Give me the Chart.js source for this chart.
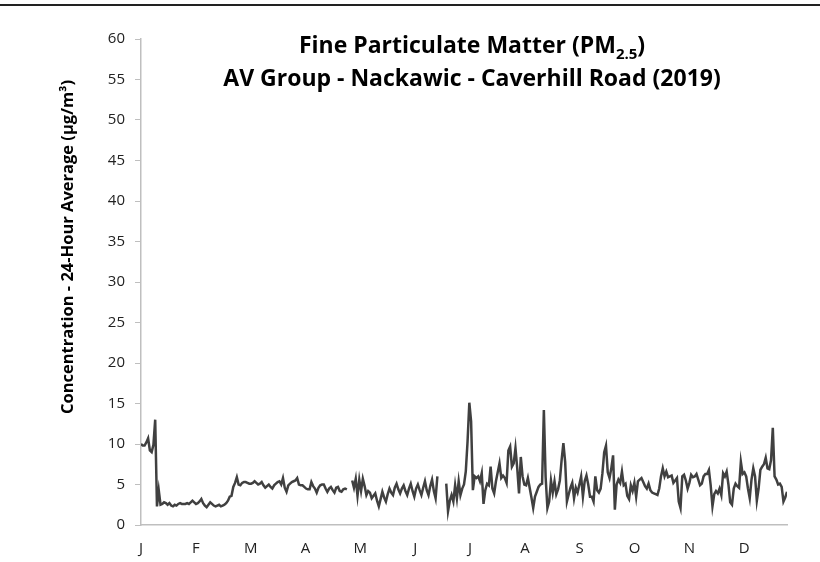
<!DOCTYPE html>
<html>
<head>
<meta charset="utf-8">
<title>Fine Particulate Matter (PM2.5) - Nackawic 2019</title>
<script src="https://cdn.jsdelivr.net/npm/chart.js@4.4.1/dist/chart.umd.min.js"></script>
<style>
  html, body { margin: 0; padding: 0; background: #fff; }
  #pmChart { display: block; }
</style>
</head>
<body>
<canvas id="pmChart" width="820" height="562"></canvas>
<script>
// daily 24-hour averages (ug/m3), one array per month, null = no data
const jan = [10.0, 9.8, 9.8, 10.2, 10.7, 9.2, 9.0, 9.9, 13.0, 2.3, 4.3, 2.5, 2.6, 2.8, 2.7, 2.5, 2.7, 2.4, 2.3, 2.5, 2.4, 2.6, 2.7, 2.6, 2.6, 2.6, 2.7, 2.6, 2.8, 3.0, 2.8];
const feb = [2.6, 2.7, 2.9, 3.2, 2.7, 2.4, 2.2, 2.5, 2.8, 2.6, 2.4, 2.3, 2.4, 2.5, 2.3, 2.4, 2.5, 2.7, 3.0, 3.5, 3.6, 4.7, 5.2, 5.9, 5.0, 4.9, 5.2, 5.3];
const mar = [5.3, 5.2, 5.1, 5.1, 5.2, 5.4, 5.2, 5.0, 5.1, 5.3, 4.9, 4.6, 4.8, 5.0, 4.7, 4.5, 4.9, 5.1, 5.3, 5.4, 5.0, 5.8, 4.6, 4.1, 4.9, 5.1, 5.3, 5.4, 5.5, 5.8, 5.0];
const apr = [4.9, 4.9, 4.7, 4.5, 4.4, 4.4, 5.3, 4.8, 4.5, 4.0, 4.6, 4.9, 5.0, 5.0, 4.5, 4.1, 4.5, 4.7, 4.3, 4.0, 4.6, 4.7, 4.2, 4.1, 4.4, 4.5, 4.4, null, null, 5.5];
const may = [4.6, 5.7, 3.6, 5.6, 4.2, 5.7, 4.8, 3.7, 4.2, 4.0, 3.3, 3.6, 3.9, 3.0, 2.3, 3.2, 4.1, 3.4, 2.9, 3.8, 4.5, 4.0, 3.7, 4.6, 5.1, 4.4, 3.9, 4.5, 4.9, 4.2, 3.7];
const jun = [4.5, 5.1, 4.2, 3.5, 4.5, 5.0, 4.3, 3.7, 4.6, 5.4, 4.3, 3.7, 4.8, 5.6, 4.2, 3.3, 6.0, null, null, null, null, 5.1, 1.7, 3.0, 3.7, 2.9, 4.9, 3.3, 5.4, 3.7];
const jul = [4.5, 5.0, 6.6, 10.3, 15.1, 12.8, 4.3, 6.0, 5.8, 6.0, 5.4, 6.4, 2.6, 4.3, 5.1, 4.9, 7.2, 4.5, 3.9, 5.4, 6.5, 7.6, 5.8, 6.1, 5.8, 5.2, 9.2, 9.7, 7.2, 7.6, 9.5];
const aug = [7.0, 3.9, 8.4, 6.0, 5.0, 4.9, 5.8, 4.6, 3.4, 2.1, 3.5, 4.1, 4.7, 5.0, 5.1, 14.2, 5.9, 2.1, 2.9, 5.5, 4.0, 5.4, 3.8, 4.4, 5.5, 8.0, 10.1, 7.8, 2.9, 3.8, 4.6];
const sep = [5.2, 3.3, 4.6, 4.0, 5.0, 6.0, 3.5, 5.4, 6.1, 5.0, 3.5, 3.5, 2.9, 6.0, 4.3, 4.0, 4.5, 6.4, 9.0, 9.8, 6.5, 5.8, 7.0, 8.6, 1.9, 5.0, 5.6, 5.2, 6.6, 4.9];
const oct = [5.1, 3.6, 3.2, 4.9, 4.2, 5.2, 3.5, 5.4, 5.6, 5.8, 5.3, 4.8, 4.5, 5.1, 4.3, 4.0, 3.9, 3.8, 3.7, 4.5, 6.0, 7.0, 6.0, 6.6, 5.9, 6.0, 6.1, 5.2, 5.5, 5.8, 2.9];
const nov = [2.1, 6.0, 6.2, 5.5, 4.5, 5.2, 6.2, 5.9, 6.0, 6.3, 5.6, 4.9, 5.1, 6.0, 6.3, 6.3, 6.8, 4.9, 2.3, 3.8, 4.2, 3.9, 4.5, 3.7, 6.4, 6.0, 6.6, 5.0, 2.8, 2.5];
const dec = [4.5, 5.1, 4.8, 4.6, 7.8, 6.3, 6.5, 6.0, 4.5, 3.3, 5.6, 7.0, 6.0, 3.0, 4.5, 6.8, 7.2, 7.5, 8.3, 7.0, 6.9, 8.0, 12.0, 6.0, 5.6, 5.0, 5.1, 4.7, 2.9, 3.4, 4.1];

const monthLabels = ['J', 'F', 'M', 'A', 'M', 'J', 'J', 'A', 'S', 'O', 'N', 'D'];
const yMin = 0;
const yMax = 60;
const yStep = 5;

const titleMain = 'Fine Particulate Matter (PM';
const titleSub = '2.5';
const titleLine2 = 'AV Group - Nackawic - Caverhill Road (2019)';
const yAxisTitle = 'Concentration - 24-Hour Average (\u00b5g/m\u00b3)';

const daily = [].concat(jan, feb, mar, apr, may, jun, jul, aug, sep, oct, nov, dec);
const points = daily.map((v, i) => ({ x: i, y: v }));

const FONT = '"Open Sans", Lato, sans-serif';

// title (with subscript) and the rotated y axis title
const headerPlugin = {
    id: 'header',
    afterDraw(chart) {
        const ctx = chart.ctx;
        const cx = 472;
        ctx.save();
        ctx.fillStyle = '#000';
        ctx.textBaseline = 'alphabetic';

        // line 1: PM with 2.5 subscript
        ctx.font = 'bold 23px ' + FONT;
        const wMain = ctx.measureText(titleMain).width;
        const wClose = ctx.measureText(')').width;
        ctx.font = 'bold 15px ' + FONT;
        const wSub = ctx.measureText(titleSub).width;
        let x = cx - (wMain + wSub + wClose) / 2;
        ctx.textAlign = 'left';
        ctx.font = 'bold 23px ' + FONT;
        ctx.fillText(titleMain, x, 53);
        x += wMain;
        ctx.font = 'bold 15px ' + FONT;
        ctx.fillText(titleSub, x, 59);
        x += wSub;
        ctx.font = 'bold 23px ' + FONT;
        ctx.fillText(')', x, 53);

        // line 2
        ctx.textAlign = 'center';
        ctx.fillText(titleLine2, cx, 86);

        // y axis title
        ctx.translate(68, 247);
        ctx.rotate(-Math.PI / 2);
        ctx.font = 'bold 16.5px ' + FONT;
        ctx.textBaseline = 'middle';
        ctx.fillText(yAxisTitle, 0, 0);
        ctx.restore();

        // frame line along the top edge
        ctx.save();
        ctx.fillStyle = '#222';
        ctx.fillRect(0, 4, chart.width, 2);
        ctx.restore();
    }
};

new Chart(document.getElementById('pmChart').getContext('2d'), {
    type: 'line',
    data: {
        datasets: [{
            label: 'PM2.5',
            data: points,
            borderColor: '#404040',
            borderWidth: 2.5,
            pointRadius: 0,
            tension: 0,
            spanGaps: false
        }]
    },
    options: {
        responsive: false,
        animation: false,
        devicePixelRatio: 1,
        layout: { padding: { top: 39, right: 33, left: 0, bottom: 0 } },
        plugins: {
            legend: { display: false },
            title: { display: false },
            tooltip: { enabled: false }
        },
        scales: {
            x: {
                type: 'linear',
                min: 0,
                max: 364,
                grid: { display: false },
                border: { color: '#bfbfbf', width: 1.5 },
                afterBuildTicks: (scale) => {
                    scale.ticks = monthLabels.map((_, i) => ({ value: i * 30.9 }));
                },
                afterFit: (scale) => { scale.height = 37; },
                ticks: {
                    autoSkip: false,
                    maxRotation: 0,
                    padding: 7,
                    color: '#222',
                    font: { family: FONT, size: 15 },
                    callback: (value, index) => monthLabels[index]
                }
            },
            y: {
                min: yMin,
                max: yMax,
                grid: {
                    drawOnChartArea: false,
                    drawTicks: true,
                    tickLength: 6,
                    color: '#bfbfbf'
                },
                border: { color: '#bfbfbf', width: 1.5 },
                afterFit: (scale) => { scale.width = 141; },
                ticks: {
                    stepSize: yStep,
                    padding: 10,
                    color: '#222',
                    font: { family: FONT, size: 15 }
                }
            }
        }
    },
    plugins: [headerPlugin]
});
</script>
</body>
</html>
